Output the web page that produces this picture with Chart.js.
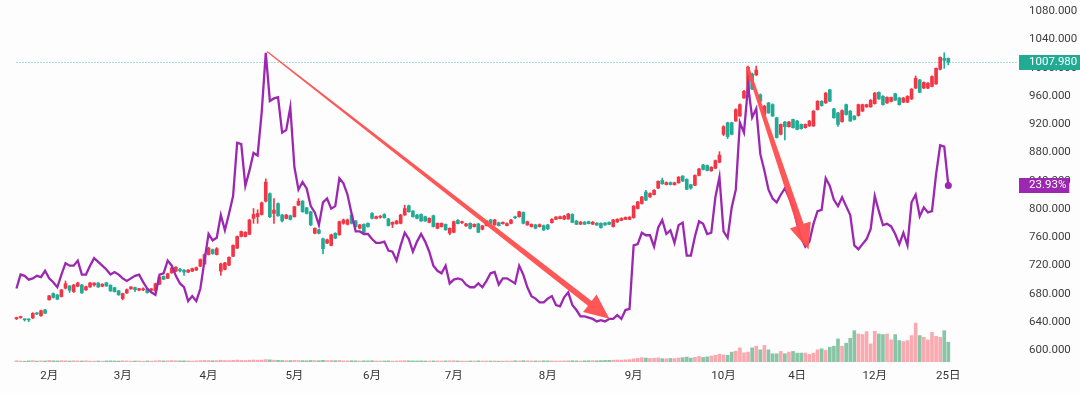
<!DOCTYPE html>
<html>
<head>
<meta charset="utf-8">
<script src="https://cdn.jsdelivr.net/npm/chart.js@4/dist/chart.umd.min.js"></script>
<style>
  html, body { margin: 0; padding: 0; background: #fdfdfd; }
  #wrap { width: 1080px; height: 393px; position: relative; }
</style>
</head>
<body>
<div id="wrap"><canvas id="c"></canvas></div>
<script>
// 时间轴标签（按交易日序号）
const monthLabels = ['2月', '3月', '4月', '5月', '6月', '7月', '8月', '9月', '10月', '4日', '12月', '25日'];
const monthIdx = [8, 26, 47, 68, 87, 107, 130, 151, 173, 191, 210, 228];
const priceTicks = [600, 640, 680, 720, 760, 800, 840, 880, 920, 960, 1000, 1040, 1080];

// 日K线
const opens = [
  645, 646.4, 644.2, 644, 646, 653, 649.2, 657.2, 671.6, 680.4,
  678.6, 676.2, 688, 691.2, 683.2, 690.8, 692.6, 685.6, 689.8, 692.6,
  695.4, 690.8, 695.8, 692.2, 688.8, 684.2, 673.4, 681.4, 687, 689,
  685.2, 685.8, 687, 685.2, 684.2, 693.6, 704.8, 702, 709.8, 712.2,
  715, 713.6, 710.8, 712.2, 713.6, 719.2, 722.4, 735.6, 742.6, 735.6,
  712.2, 714.6, 720.6, 733.2, 744.8, 761.2, 761.2, 764.4, 786.8, 789.2,
  792.4, 811.2, 821.8, 793.8, 807.8, 791.6, 786.8, 790.6, 789.2, 805.6,
  811.2, 801.8, 796.2, 765.8, 770.6, 758, 751.8, 748.6, 765.8, 763.6,
  779.8, 778.4, 791.6, 783.2, 772.8, 778.4, 779.8, 793.8, 786.8, 788.5,
  792.4, 786, 778.4, 779.4, 779.8, 791.6, 804.6, 797.2, 791.6, 792.4,
  789.2, 781.2, 790.6, 772.8, 775.2, 778.4, 765.8, 767.2, 784, 780.8,
  776.2, 779.8, 775.2, 779, 771.4, 776.6, 784.6, 777.6, 780.8, 779.4,
  776.6, 779.8, 788.2, 789.2, 795.2, 777.6, 775.2, 777.6, 775.2, 776.6,
  777.6, 780.8, 785.4, 786.4, 785.7, 786, 792.4, 783.2, 778.6, 781.5,
  782.2, 778.6, 780.1, 779.8, 780.4, 781.2, 775.2, 781.8, 784, 785.4,
  785.4, 787.8, 800.8, 807.8, 824.2, 817.2, 820.4, 829.8, 840.6, 834.7,
  837.5, 834.4, 837.2, 846.6, 842, 834.4, 833.6, 847.6, 862.4, 861.6,
  854, 857.8, 866.2, 905.8, 922.2, 922.2, 924.6, 931.6, 957.2, 964.2,
  991.2, 989.8, 961.8, 933.8, 950.2, 947.8, 929.2, 905.8, 923.2, 916.6,
  926.8, 924.6, 919.8, 915.2, 917.6, 917.6, 940.8, 952.6, 950.2, 968.8,
  941.8, 936.2, 923.6, 947.8, 938.6, 931.6, 932.4, 938.6, 944.6, 944.6,
  949.2, 965.2, 959.6, 950.2, 952.3, 963.2, 957.2, 951.2, 951.2, 955.8,
  971.2, 982.8, 971.2, 971.2, 973.6, 977.2, 997.8, 1013.2, 1013.2
];
const highs = [
  647, 648.5, 644.5, 644.4, 653.5, 653.8, 657, 658, 678, 681.5,
  679, 686.5, 698.2, 692, 693.5, 696.5, 693.5, 691, 696.5, 695.8,
  696, 694.5, 696.5, 693, 689.5, 685, 681, 687, 690.2, 689.5,
  688, 688.5, 687.8, 688, 695.2, 704.5, 705.5, 709.2, 717.5, 718.5,
  716, 714.5, 714.5, 716.5, 718, 729.5, 736.5, 746, 743.5, 745.5,
  723.5, 724.5, 732.5, 749.5, 762, 769, 768, 785.5, 800.8, 799,
  810, 842.8, 823, 814.8, 809, 792.5, 792.5, 791.5, 804, 814.8,
  812, 802.5, 797, 773.5, 771.5, 759, 757.5, 764.5, 766.5, 783,
  786, 786, 793, 784, 778.5, 779, 780.5, 795, 790, 791,
  793.5, 787, 782, 784, 792.5, 805.6, 805.5, 798, 792.5, 793.2,
  790, 787.8, 791.5, 780.5, 780.5, 779, 773.5, 783, 785, 783,
  780, 780.5, 779.2, 780, 777, 784, 785.5, 785.5, 781.5, 782,
  780.5, 785.5, 790, 797, 796, 783, 779.2, 778.5, 779, 777.5,
  778.5, 786.5, 789.5, 790, 791, 794, 793.5, 784, 782.5, 782.5,
  783, 782.5, 781, 780.5, 781, 782, 785.5, 786.5, 787.8, 789,
  789.5, 805, 811, 818, 826.6, 823, 827.5, 840, 843.8, 838.5,
  838.5, 838, 846, 847.5, 843, 835, 848.5, 857.5, 863.2, 862.5,
  860, 869.5, 881.2, 918, 923, 923, 942, 949, 968, 1002.4,
  992.5, 1002.4, 963, 947, 951, 949, 930, 920.5, 924, 924,
  927.5, 925.5, 920.5, 920.5, 925.5, 939.5, 953.5, 953.5, 965, 969.5,
  942.5, 937, 940.5, 948.5, 939.5, 932.5, 948.5, 948.5, 948.5, 955,
  965, 966, 960.5, 959, 958.5, 964, 958, 958, 960.5, 970.5,
  988.4, 983.5, 980, 979, 988.5, 1000, 1015.6, 1021.2, 1014
];
const lows = [
  643.6, 645.5, 641.5, 640.8, 645, 650.5, 648, 652, 671, 674,
  671.6, 675.5, 687, 682, 682, 690, 680.5, 685, 689, 691,
  689, 690, 690.5, 683.5, 682.5, 678, 671.5, 680.5, 686.5, 683,
  684.5, 684.5, 681, 684.5, 683.5, 693, 700, 701.5, 709, 711.5,
  711, 706.2, 710, 711.5, 713, 718.5, 721.5, 735, 736, 735,
  706.2, 714, 720, 732.5, 744, 760.5, 760.5, 763.5, 779.8, 779.8,
  791.5, 810, 788, 779.8, 789.5, 782, 786, 784.5, 788.5, 805,
  795.5, 793, 776.5, 765, 765, 736.4, 751, 748, 758, 763,
  778.5, 777.5, 779, 774, 772, 765, 774.5, 786, 786, 787,
  787, 776, 773.8, 778.5, 779, 791, 795.5, 788.5, 786, 782.5,
  782.5, 780.5, 774.5, 772, 774.5, 770, 763.6, 766.5, 779, 779.5,
  775.5, 772, 774.5, 766.5, 770.5, 776, 779, 777, 776, 778.5,
  776, 779, 786.5, 788.5, 779, 777, 774.5, 772, 774.5, 769.5,
  771, 780, 785, 786, 785, 785.5, 780.5, 778, 778, 778,
  779, 778, 777, 773, 777, 778, 774.5, 781, 783.5, 785,
  785, 787, 800, 807, 812, 816.5, 820, 829, 835, 834,
  834, 834, 836.5, 839, 827.5, 828, 833, 847, 855.5, 854,
  853.5, 857, 865.5, 904, 899.8, 905, 924, 931, 956.5, 963.5,
  969, 989, 952, 933, 935.5, 931, 900.5, 905, 898, 916,
  914.5, 912, 913, 914.5, 917, 917, 940, 945.5, 949.5, 952,
  928.5, 917, 923, 933, 924, 926, 931.5, 938, 944, 944,
  948.5, 955, 947, 949.5, 951.5, 953.5, 947, 950.5, 950.5, 955,
  970.5, 964.5, 970.5, 970.5, 973, 976.5, 997, 999.2, 1004
];
const closes = [
  645.6, 647.2, 643.4, 643.2, 652.4, 651.5, 656.2, 652.5, 677.2, 674.8,
  672.6, 685.6, 694.4, 685.2, 692.6, 695.4, 681.4, 690.2, 695.4, 695.4,
  689.8, 693.6, 691.2, 684.2, 683.2, 678.6, 680.4, 686, 689.8, 686,
  687.4, 687, 681.8, 687, 694.4, 703.8, 700.6, 708.4, 716.8, 717.8,
  712.5, 710.8, 713.6, 715.7, 717.1, 728.6, 735.6, 744.8, 737, 744,
  722.4, 723.8, 731.8, 748.6, 761.2, 768.2, 767.2, 784.6, 792.4, 793.8,
  808.8, 838.2, 789.2, 798.6, 790.6, 783.2, 791.6, 785.4, 803.2, 811.2,
  796.2, 793.8, 777.6, 772.8, 765.8, 744, 756.6, 763.6, 758.8, 782.2,
  784.6, 784.6, 779.8, 775.2, 777.6, 767.2, 775.2, 786.8, 789.2, 789.2,
  787.8, 776.6, 781.2, 783.2, 791.6, 800.8, 796.2, 789.2, 786.8, 783.2,
  783.2, 786.8, 775.2, 779.8, 779.8, 770.6, 772.8, 782.2, 779.4, 781.6,
  779, 772.8, 778.4, 767.2, 776.2, 783.2, 779.4, 784.6, 776.6, 781.2,
  779.4, 784.6, 787.6, 796.2, 779.8, 782.2, 778.4, 772.8, 778, 770.6,
  772, 785.4, 788.8, 789.2, 789.9, 793, 781.2, 778.4, 781.5, 778.6,
  779.4, 781.5, 777.3, 773.8, 777.6, 778.4, 784.6, 785.4, 786.8, 788.2,
  788.5, 804.2, 810.2, 817.2, 812.6, 822.1, 826.6, 839.2, 835.8, 837.5,
  834.7, 837.2, 845.2, 839.6, 828, 829.8, 847.6, 856.8, 856, 854.6,
  859.2, 868.6, 876.4, 916.6, 902.6, 905.8, 940.8, 947.8, 966.6, 1000.6,
  969.8, 996.8, 952.6, 945.6, 936.2, 931.6, 901.2, 919.8, 916.6, 923.2,
  915.2, 912.8, 913.8, 919.8, 924.6, 938.6, 952.6, 946.4, 964.2, 952.6,
  929.2, 919.8, 939.4, 933.8, 924.6, 926.8, 947.8, 947.8, 947.8, 954,
  964.2, 955.8, 947.8, 958.2, 957.9, 954, 947.8, 957.2, 959.6, 969.8,
  985.2, 965.2, 979.2, 978.2, 987.6, 999.2, 1014.6, 1010.4, 1007.98
];
// 成交量
const volumes = [
  30, 25, 20, 28, 35, 22, 30, 26, 40, 30, 28, 35, 32, 25, 30, 28, 26, 30, 24, 22,
  25, 22, 28, 30, 26, 24, 32, 28, 22, 25, 24, 20, 26, 22, 30, 34, 28, 30, 36, 32,
  28, 30, 26, 24, 28, 35, 40, 38, 32, 35, 45, 38, 36, 42, 48, 40, 38, 45, 50, 46,
  48, 60, 55, 45, 42, 38, 35, 36, 40, 38, 35, 32, 40, 36, 34, 42, 36, 38, 34, 40,
  30, 28, 32, 30, 26, 30, 28, 32, 26, 24, 26, 28, 24, 26, 30, 34, 30, 28, 26, 28,
  26, 24, 28, 26, 24, 28, 30, 32, 26, 24, 22, 26, 24, 28, 24, 26, 24, 26, 22, 24,
  26, 24, 30, 28, 32, 30, 26, 28, 26, 30, 28, 26, 24, 26, 28, 30, 32, 28, 26, 30,
  32, 34, 30, 36, 40, 42, 45, 50, 48, 55, 60, 80, 95, 110, 100, 90, 95, 105, 85, 80,
  90, 85, 100, 110, 125, 100, 120, 140, 115, 130, 150, 170, 200,
  180,
  168, 250, 275, 358, 233, 250, 358, 400, 308, 418,
  308, 208, 208, 268, 208, 250, 268, 225, 225, 225,
  193, 225, 308, 333, 293, 375, 400, 583, 400, 475,
  600, 793, 708, 693, 768, 458, 775, 708, 693, 708,
  558, 693, 543, 518, 543, 668, 983, 668, 625, 558,
  750, 650, 625, 793, 500
];
// 紫色波动率线 (%)
const ivSeries = [
  15.8, 16.9, 16.8, 16.5, 16.6, 16.8, 16.7, 17.2, 16.6, 16.3,
  15.9, 16.9, 17.8, 17.6, 17.6, 18.0, 16.9, 16.9, 17.6, 18.2,
  17.9, 17.6, 17.3, 16.9, 17.1, 16.9, 16.6, 16.4, 16.6, 16.8,
  16.9, 16.3, 15.8, 15.5, 15.3, 16.9, 17.0, 18.0, 17.6, 16.8,
  16.2, 15.9, 14.8, 15.2, 14.8, 15.8, 18.0, 20.1, 19.6, 19.8,
  21.6, 20.4, 21.7, 23.1, 27.3, 27.2, 23.9, 25.1, 26.5, 26.3,
  29.7, 34.4, 30.6, 30.8, 30.9, 28.1, 28.3, 30.1, 25.4, 23.6,
  24.2, 23.7, 22.3, 21.8, 20.8, 22.6, 22.9, 22.1, 22.3, 24.5,
  24.1, 23.2, 21.7, 20.3, 20.3, 20.1, 20.1, 19.7, 19.4, 19.4,
  19.5, 18.8, 18.7, 18.0, 19.2, 20.2, 19.7, 18.7, 19.5, 20.1,
  19.5, 18.7, 17.6, 17.2, 17.0, 17.6, 16.2, 16.5, 16.6, 16.5,
  16.1, 15.9, 15.9, 16.2, 15.9, 16.4, 17.0, 17.1, 16.1, 16.6,
  16.6, 16.4, 16.2, 17.6, 16.9, 15.9, 15.2, 15.0, 14.7, 14.7,
  15.0, 15.2, 14.5, 14.4, 15.1, 15.5, 14.5, 14.1, 13.6, 13.6,
  13.5, 13.4, 13.2, 13.3, 13.2, 13.4, 13.4, 13.7, 13.4, 14.1,
  14.2, 19.2, 19.3, 20.2, 20.0, 20.0, 19.1, 20.6, 21.2, 20.1,
  20.4, 19.4, 20.8, 21.0, 18.4, 18.4, 19.9, 21.1, 20.9, 20.1,
  20.2, 23.0, 24.6, 20.3, 19.8, 22.2, 23.6, 28.9, 28.1, 31.8,
  29.3, 30.0, 26.4, 25.1, 23.6, 22.9, 22.6, 23.2, 23.7, 23.0,
  22.3, 20.9, 19.8, 19.1, 19.5, 20.9, 21.9, 22.0, 24.5, 23.9,
  22.8, 22.3, 23.0, 22.3, 21.6, 19.2, 18.9, 19.3, 19.7, 20.5,
  23.1, 21.9, 20.8, 20.9, 20.7, 20.1, 19.3, 20.2, 19.2, 22.6,
  23.2, 21.5, 22.2, 21.8, 21.9, 24.8, 27.1, 27.0, 23.93
];
// 箭头标注：起点 / 终点（交易日序号, 波动率%）
const arrowFrom = [[61.3, 34.5], [178.8, 33.33]];
const arrowTo = [[145.1, 13.42], [193.8, 18.87]];

const N = closes.length;
const UP = '#F23645';
const DOWN = '#22AB94';
const PURPLE = '#9C27B0';
const candleColor = closes.map((c, i) => (c >= opens[i] ? UP : DOWN));
const volColor = closes.map((c, i) => (c >= opens[i] ? 'rgba(242,54,69,0.42)' : 'rgba(40,150,95,0.55)'));

Chart.defaults.font.family = "Roboto, 'Noto Sans CJK SC', sans-serif";

function drawArrow(ctx, x0, y0, x1, y1, w0, w1, hl, hw) {
  const dx = x1 - x0, dy = y1 - y0;
  const len = Math.hypot(dx, dy);
  const ux = dx / len, uy = dy / len, nx = -uy, ny = ux;
  const bx = x1 - ux * hl, by = y1 - uy * hl;
  ctx.beginPath();
  ctx.moveTo(x0 + nx * w0 / 2, y0 + ny * w0 / 2);
  ctx.lineTo(bx + nx * w1 / 2, by + ny * w1 / 2);
  ctx.lineTo(bx + nx * hw, by + ny * hw);
  ctx.lineTo(x1, y1);
  ctx.lineTo(bx - nx * hw, by - ny * hw);
  ctx.lineTo(bx - nx * w1 / 2, by - ny * w1 / 2);
  ctx.lineTo(x0 - nx * w0 / 2, y0 - ny * w0 / 2);
  ctx.closePath();
  ctx.fill();
}

function drawTag(ctx, left, y, text, color) {
  ctx.font = "11.5px Roboto, sans-serif";
  const w = ctx.measureText(text).width + 13;
  const h = 15;
  ctx.fillStyle = color;
  ctx.fillRect(left + 2, Math.round(y - h / 2), w, h);
  ctx.fillStyle = '#ffffff';
  ctx.textAlign = 'left';
  ctx.textBaseline = 'middle';
  ctx.fillText(text, left + 12, Math.round(y) + 0.5);
}

const overlay = {
  id: 'overlay',
  beforeDatasetsDraw(chart) {
    const { ctx, chartArea: a, scales } = chart;
    const py = Math.round(scales.y.getPixelForValue(closes[N - 1])) + 0.5;
    ctx.save();
    ctx.strokeStyle = 'rgba(34,171,148,0.75)';
    ctx.lineWidth = 1;
    ctx.setLineDash([1, 2]);
    ctx.beginPath();
    ctx.moveTo(scales.x.getPixelForValue(0), py);
    ctx.lineTo(a.right, py);
    ctx.stroke();
    ctx.restore();
  },
  afterDatasetsDraw(chart) {
    const { ctx, scales } = chart;
    const sizes = [[1.2, 6, 25, 11], [3, 7, 26, 11]];
    ctx.save();
    ctx.fillStyle = 'rgba(255,78,78,0.95)';
    arrowFrom.forEach((f, k) => {
      const t = arrowTo[k];
      const s = sizes[k];
      drawArrow(ctx,
        scales.x.getPixelForValue(f[0]), scales.yv.getPixelForValue(f[1]),
        scales.x.getPixelForValue(t[0]), scales.yv.getPixelForValue(t[1]),
        s[0], s[1], s[2], s[3]);
    });
    ctx.restore();
  },
  afterDraw(chart) {
    const { ctx, chartArea: a, scales } = chart;
    ctx.save();
    drawTag(ctx, a.right, scales.y.getPixelForValue(closes[N - 1]), closes[N - 1].toFixed(3), DOWN);
    drawTag(ctx, a.right, scales.yv.getPixelForValue(ivSeries[N - 1]), ivSeries[N - 1].toFixed(2) + '%', PURPLE);
    ctx.restore();
  }
};

new Chart(document.getElementById('c'), {
  type: 'bar',
  data: {
    datasets: [
      {
        type: 'line',
        data: ivSeries.map((v, i) => ({ x: i, y: v })),
        yAxisID: 'yv',
        borderColor: PURPLE,
        borderWidth: 2.3,
        tension: 0,
        pointRadius: (ctx) => (ctx.dataIndex === N - 1 ? 3.5 : 0),
        pointBackgroundColor: PURPLE,
        pointBorderWidth: 0,
        order: 0,
      },
      {
        data: opens.map((o, i) => ({ x: i, y: [o, closes[i]] })),
        backgroundColor: candleColor,
        barThickness: 3,
        minBarLength: 1,
        grouped: false,
        yAxisID: 'y',
        order: 1,
      },
      {
        data: lows.map((l, i) => ({ x: i, y: [l, highs[i]] })),
        backgroundColor: candleColor,
        barThickness: 1,
        grouped: false,
        yAxisID: 'y',
        order: 2,
      },
      {
        data: volumes.map((v, i) => ({ x: i, y: v })),
        backgroundColor: volColor,
        barThickness: 3,
        grouped: false,
        yAxisID: 'yvol',
        order: 3,
      },
    ],
  },
  options: {
    responsive: true,
    maintainAspectRatio: false,
    animation: false,
    events: [],
    layout: { padding: 0 },
    plugins: { legend: { display: false }, tooltip: { enabled: false } },
    scales: {
      x: {
        type: 'linear',
        min: -3.05,
        max: 244.8,
        offset: false,
        grid: { display: false, drawTicks: false },
        border: { display: false },
        afterBuildTicks: (ax) => { ax.ticks = monthIdx.map((v) => ({ value: v })); },
        afterFit: (ax) => { ax.height = 31; ax.paddingLeft = 0; ax.paddingRight = 0; },
        ticks: {
          autoSkip: false,
          maxRotation: 0,
          padding: 7,
          color: '#333333',
          font: { size: 11.5 },
          callback: (v, k) => monthLabels[k],
        },
      },
      y: {
        position: 'right',
        min: 583.6,
        max: 1090.2,
        grid: { display: false, drawTicks: false },
        border: { display: false },
        afterBuildTicks: (ax) => { ax.ticks = priceTicks.map((v) => ({ value: v })); },
        afterFit: (ax) => { ax.width = 63; ax.paddingTop = 0; ax.paddingBottom = 0; },
        ticks: {
          padding: 12,
          color: '#3d3d3d',
          font: { size: 11.5 },
          callback: (v) => Number(v).toFixed(3),
        },
      },
      yv: { display: false, min: 10, max: 38.25 },
      yvol: { display: false, min: 0, max: 9050 },
    },
  },
  plugins: [overlay],
});
</script>
</body>
</html>
